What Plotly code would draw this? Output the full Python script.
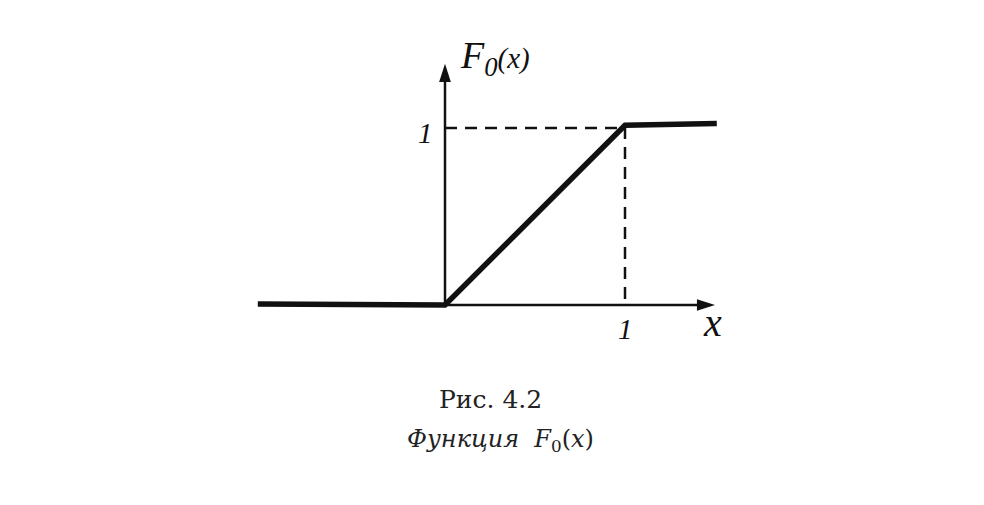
import plotly.graph_objects as go

# Data: piecewise-linear distribution function F0(x)
curve_x = [-1.04, 0.0, 1.0, 1.51]
curve_y = [0.005, 0.0, 1.01, 1.02]

dash_h_x = [0.0, 1.0]
dash_h_y = [0.995, 0.995]
dash_v_x = [1.0, 1.0]
dash_v_y = [1.0, 0.0]

axis_x_end = 1.50
axis_y_end = 1.355

tick_labels = ["1", "1"]

W, H = 984, 505
# page body has an 8px margin, so shift pixel references accordingly
x0px, xscale = 445 - 8, 180.0
y0px, yscale = 305 - 8, 178.0
xr = [-x0px / xscale, (W - x0px) / xscale]
yr = [(y0px - H) / yscale, y0px / yscale]


def px_x(p):
    return (p - 8 - x0px) / xscale


def px_y(p):
    return (y0px - (p - 8)) / yscale


fig = go.Figure()
fig.add_trace(go.Scatter(x=dash_h_x, y=dash_h_y, mode="lines",
                         line=dict(color="#111", width=2.5, dash="12px,8px"),
                         hoverinfo="skip", showlegend=False))
fig.add_trace(go.Scatter(x=dash_v_x, y=dash_v_y, mode="lines",
                         line=dict(color="#111", width=2.5, dash="12px,8px"),
                         hoverinfo="skip", showlegend=False))
# axis lines
fig.add_trace(go.Scatter(x=[0, axis_x_end - 0.03], y=[0, 0], mode="lines",
                         line=dict(color="#111", width=2.5),
                         hoverinfo="skip", showlegend=False))
fig.add_trace(go.Scatter(x=[0, 0], y=[0, axis_y_end - 0.03], mode="lines",
                         line=dict(color="#111", width=2.5),
                         hoverinfo="skip", showlegend=False))
# arrowheads
fig.add_trace(go.Scatter(x=[axis_x_end], y=[0], mode="markers",
                         marker=dict(symbol="arrow", size=19, angle=90, color="#111",
                                     line=dict(width=0)),
                         hoverinfo="skip", showlegend=False))
fig.add_trace(go.Scatter(x=[0], y=[axis_y_end], mode="markers",
                         marker=dict(symbol="arrow", size=19, angle=0, color="#111",
                                     line=dict(width=0)),
                         hoverinfo="skip", showlegend=False))
fig.add_trace(go.Scatter(x=curve_x, y=curve_y, mode="lines",
                         line=dict(color="#111", width=5.5),
                         hoverinfo="skip", showlegend=False))

serif = "Liberation Serif"
fig.add_annotation(x=px_x(425), y=px_y(133), xref="x", yref="y", text="<i>" + tick_labels[0] + "</i>",
                   showarrow=False, font=dict(family=serif, size=29, color="#111"))
fig.add_annotation(x=px_x(625), y=px_y(329), xref="x", yref="y", text="<i>" + tick_labels[1] + "</i>",
                   showarrow=False, font=dict(family=serif, size=29, color="#111"))
fig.add_annotation(x=px_x(712), y=px_y(322), xref="x", yref="y", text="<i>x</i>",
                   showarrow=False, font=dict(family=serif, size=40, color="#111"))
fig.add_annotation(x=px_x(458), y=px_y(58), xref="x", yref="y", xanchor="left",
                   text="<i>F</i><sub><i>0</i></sub><i><span style='font-size:29px'>(x)</span></i>",
                   showarrow=False, font=dict(family=serif, size=38, color="#111"))

cap = "DejaVu Serif"
fig.add_annotation(x=px_x(490), y=px_y(399), xref="x", yref="y",
                   text="Рис. 4.2", showarrow=False,
                   font=dict(family=cap, size=25, color="#222"))
fig.add_annotation(x=px_x(500), y=px_y(440), xref="x", yref="y",
                   text="<i>Функция</i>  <i>F</i><sub>0</sub>(<i>x</i>)", showarrow=False,
                   font=dict(family=cap, size=24, color="#222"))

fig.update_layout(width=W, height=H, autosize=False,
                  margin=dict(l=0, r=0, t=0, b=0),
                  paper_bgcolor="white", plot_bgcolor="white",
                  xaxis=dict(range=xr, visible=False, fixedrange=True),
                  yaxis=dict(range=yr, visible=False, fixedrange=True))
fig.write_html("out.html")
